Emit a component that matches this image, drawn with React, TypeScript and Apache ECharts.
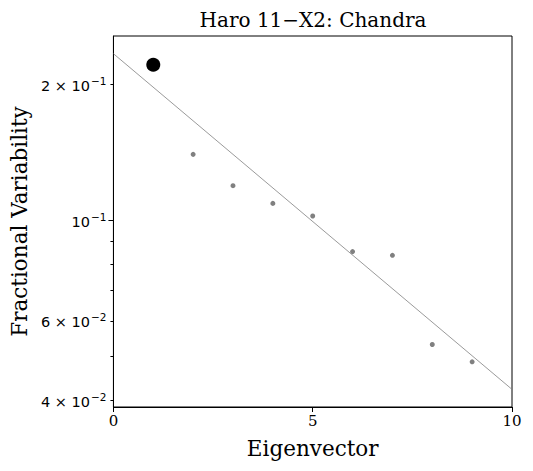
import React, { useEffect, useRef } from "react";
import * as echarts from "echarts";

const highlightPoint: [number, number][] = [[1, 0.2214]];
const eigenX = [2, 3, 4, 5, 6, 7, 8, 9];
const fracVar = [0.1402, 0.1195, 0.1092, 0.1024, 0.0854, 0.0838, 0.0532, 0.0487];
const fitLine: [number, number][] = [
  [0, 0.2342],
  [10, 0.04232],
];
const yLabelValues = [0.2, 0.1, 0.06, 0.04];
const yLabelMantissa = ["2 × 10", "10", "6 × 10", "4 × 10"];
const yLabelExponent = ["−1", "−1", "−2", "−2"];
const yMajorTicks = [0.1];
const yMinorTicks = [0.2, 0.09, 0.08, 0.07, 0.06, 0.05, 0.04];
const xTicks = [0, 5, 10];
const yMin = 0.03868;
const yMax = 0.2563;

const FONT = "DejaVu Serif";
const MATH = "DejaVu Sans";

export default function App() {
  const ref = useRef<HTMLDivElement>(null);
  useEffect(() => {
    document.body.style.margin = "0";
    const chart = echarts.init(ref.current!, null, { renderer: "svg" });
    const grid = { left: 113, right: 21, top: 36, bottom: 64 };
    const labelFor = (v: number) => {
      let best = 0;
      let bd = Infinity;
      yLabelValues.forEach((t, i) => {
        const d = Math.abs(Math.log(v) - Math.log(t));
        if (d < bd) {
          bd = d;
          best = i;
        }
      });
      return `{b|${yLabelMantissa[best]}}{s|${yLabelExponent[best]}}`;
    };
    chart.setOption({
      animation: false,
      backgroundColor: "#ffffff",
      title: {
        text: "Haro 11−X2: Chandra",
        left: 308,
        textAlign: "center",
        top: 5,
        textStyle: { fontFamily: FONT, fontSize: 20, fontWeight: "normal", color: "#000" },
      },
      grid: { ...grid, show: true, borderColor: "#000", borderWidth: 1, backgroundColor: "transparent" },
      xAxis: {
        type: "value",
        min: 0,
        max: 10,
        interval: 5,
        name: "Eigenvector",
        nameLocation: "middle",
        nameGap: 30,
        nameTextStyle: { fontFamily: FONT, fontSize: 21.5, color: "#000" },
        axisLine: { show: true, lineStyle: { color: "#000", width: 1 } },
        axisTick: { show: true, length: 5, lineStyle: { color: "#000" }, customValues: xTicks },
        axisLabel: {
          fontFamily: FONT,
          fontSize: 15,
          color: "#000",
          margin: 6,
          customValues: xTicks,
        },
        splitLine: { show: false },
      },
      yAxis: [
        {
          type: "log",
          logBase: 10,
          min: yMin,
          max: yMax,
          name: "Fractional Variability",
          nameLocation: "middle",
          nameGap: 82,
          nameTextStyle: { fontFamily: FONT, fontSize: 21.5, color: "#000" },
          axisLine: { show: true, lineStyle: { color: "#000", width: 1 } },
          axisTick: { show: true, length: 5, lineStyle: { color: "#000" }, customValues: yMajorTicks },
          axisLabel: {
            color: "#000",
            margin: 7,
            customValues: yLabelValues,
            formatter: (v: number) => labelFor(v),
            rich: {
              b: { fontFamily: MATH, fontSize: 14.5, color: "#000", lineHeight: 18, verticalAlign: "bottom" },
              s: { fontFamily: MATH, fontSize: 10.5, color: "#000", lineHeight: 18, verticalAlign: "top", padding: [0, 0, 6, 1] },
            },
          },
          splitLine: { show: false },
        },
        {
          type: "log",
          logBase: 10,
          min: yMin,
          max: yMax,
          position: "left",
          axisLine: { show: false },
          axisTick: { show: true, length: 3, lineStyle: { color: "#000" }, customValues: yMinorTicks },
          axisLabel: { show: false },
          splitLine: { show: false },
        },
      ],
      series: [
        {
          type: "line",
          data: fitLine,
          showSymbol: false,
          symbol: "none",
          lineStyle: { color: "#808080", width: 0.8 },
          z: 1,
        },
        {
          type: "scatter",
          data: eigenX.map((x, i) => [x, fracVar[i]]),
          symbolSize: 5,
          itemStyle: { color: "#808080", opacity: 1 },
          z: 2,
        },
        {
          type: "scatter",
          data: highlightPoint,
          symbolSize: 14,
          itemStyle: { color: "#000", opacity: 1 },
          z: 3,
        },
      ],
    });
    return () => chart.dispose();
  }, []);
  return <div ref={ref} style={{ width: 533, height: 471 }} />;
}
